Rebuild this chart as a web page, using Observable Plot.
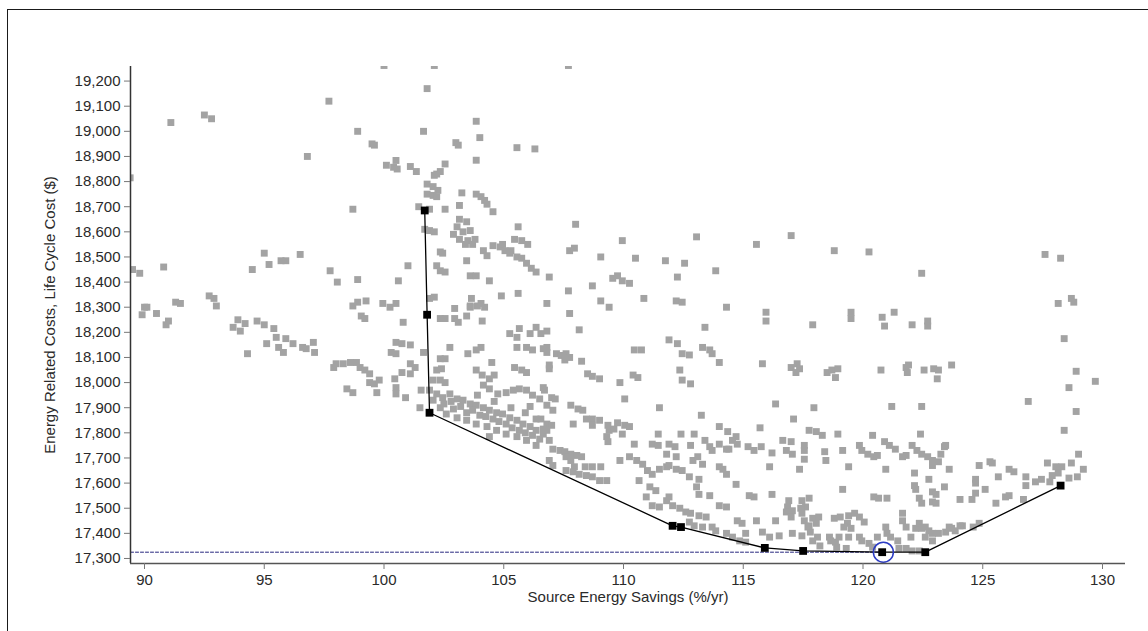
<!DOCTYPE html>
<html><head><meta charset="utf-8">
<script src="https://cdn.jsdelivr.net/npm/d3@7"></script>
<script src="https://cdn.jsdelivr.net/npm/@observablehq/plot@0.6"></script>
<style>
html,body{margin:0;padding:0;background:#fff;width:1148px;height:631px;overflow:hidden;}
#frame{position:absolute;left:7px;top:9px;width:1150px;height:640px;border:1px solid #1a1a1a;box-sizing:border-box;}
#chart{position:absolute;left:0;top:0;}
</style></head><body>
<div id="frame"></div>
<div id="chart"></div>
<script>
// Axis ticks
const xTicks = [90, 95, 100, 105, 110, 115, 120, 125, 130];
const yTicks = [17300,17400,17500,17600,17700,17800,17900,18000,18100,18200,18300,18400,18500,18600,18700,18800,18900,19000,19100,19200];
const xTitle = "Source Energy Savings (%/yr)";
const yTitle = "Energy Related Costs, Life Cycle Cost ($)";

// Simulated designs: [source energy savings %/yr, life cycle cost $]
const designsLeft = [
[91.1,19035],[92.5,19065],[92.8,19050],[96.8,18900],[97.7,19120],[98.9,19000],[99.5,18950],[99.6,18945],[100.1,18865],[100.4,18857],[100.5,18884],[100.0,19262],[98.7,18690],[89.4,18815],
[89.5,18450],[89.8,18435],[90.8,18460],[90.0,18300],[89.9,18270],[90.1,18300],[90.5,18275],[90.9,18230],[91.0,18245],[91.3,18320],[91.5,18315],[92.7,18345],[92.9,18335],[93.0,18305],[93.7,18220],[93.9,18250],[94.0,18205],[94.2,18235],[94.3,18115],[94.5,18450],[94.7,18245],[95.0,18230],[95.4,18215],[95.0,18515],[95.2,18470],[95.7,18485],[95.9,18485],[96.5,18510],[95.1,18155],[95.5,18180],[95.6,18140],[95.9,18175],[95.8,18120],[96.2,18155],[96.6,18140],[96.75,18135],[97.05,18160],[97.1,18120],[97.75,18445],[98.05,18400],[98.9,18410],[98.7,18305],[98.9,18320],[99.25,18325],[99.05,18265],[99.2,18255],[99.95,18315],[100.25,18300],[100.5,18315],[100.6,18405],[97.9,18060],[98.0,18075],[98.3,18075],[98.6,18080],[98.85,18080],[99.0,18060],[99.2,18050],[99.4,18035],[99.4,18000],[99.6,17995],[99.8,18010],[99.7,17960],[98.45,17975],[98.7,17960],[100.3,18120],[100.5,18115],[100.5,18160],[100.45,18015],[100.5,17980],
[100.8,18240],[100.75,18155],[101.1,18150],[101.1,18075],[101.3,18060],[100.75,18040],[101.1,18035],[100.5,17955],[100.9,17940],[100.55,18850],[101.1,18860],[101.35,18840]
];
const designsUpperMid = [
[101.65,18120],[101.55,17970],[101.5,17900],[101.9,17970],[102.05,18010],[102.35,18010],[102.55,18000],[102.2,18050],[102.4,18055],[102.35,18095],[102.55,18095],[102.75,18140],[102.35,18255],[102.55,18255],[102.95,18255],[103.1,18240],[102.95,18295],[103.45,18265],[103.6,18300],[103.9,18305],[104.2,18300],[104.1,18245],[103.5,18115],[103.85,18130],[104.05,18140],[104.5,18080],[103.85,18050],[104.1,18030],[104.4,18015],[104.6,18030],[102.05,17930],[105.25,18195],[105.55,18180],[105.65,18215],[106.1,18195],[106.35,18220],[106.55,18195],[106.8,18205],[105.55,18140],[105.95,18140],[106.2,18130],[106.65,18135],[105.45,18060],[105.75,18050],[105.95,18040],
[103.0,18955],[103.1,18945],[105.55,18935],[106.3,18930],[102.55,18870],[103.85,18885],[102.2,18830],[102.35,18840],[102.1,18825],[101.8,18790],[102.05,18780],[102.25,18765],[101.8,18750],[102.05,18745],[102.2,18740],[101.45,18700],[101.9,18690],[102.55,18690],[103.15,18705],[103.25,18755],[103.85,18750],[104.05,18740],[104.2,18725],[104.3,18710],[104.55,18680],[101.7,18610],[101.9,18605],[102.1,18600],[103.15,18650],[103.45,18640],[103.05,18620],[103.3,18600],[103.6,18605],[102.9,18590],[103.15,18570],[103.5,18565],[103.8,18570],[103.4,18550],[103.7,18550],[105.6,18620],[104.55,18545],[104.85,18540],[105.05,18525],[105.3,18525],[105.45,18570],[105.75,18565],[106.0,18550],[104.95,18550],[105.25,18515],[105.55,18500],[105.75,18495],[105.95,18475],[106.15,18455],[106.35,18440],[104.15,18525],[104.3,18505],[102.35,18520],[102.45,18515],[103.45,18485],[102.2,18465],[102.35,18445],[102.55,18440],[101.0,18465],[103.6,18425],[103.85,18425],[104.4,18405],[104.9,18345],[105.6,18355],[101.9,18335],[102.1,18340],[103.65,18335],[104.05,18315],[103.6,18305],[106.8,18315],
[107.7,19262],[102.1,19262],[101.8,19170],[103.85,19040],[101.65,19000],[104.0,18975]
];
const designsBand = [
[102.2,17955],[102.45,17940],[102.75,17955],[103.05,17935],[103.3,17930],[103.6,17915],[103.85,17910],[104.15,17900],[104.4,17890],[104.7,17880],[104.95,17875],[105.25,17860],[105.55,17850],[105.8,17835],[106.1,17825],[106.35,17810],[106.65,17795],[106.9,17770],
[102.6,17875],[103.05,17860],[103.45,17850],[103.85,17835],[104.3,17825],[104.7,17810],[105.1,17795],[105.55,17785],[105.95,17770],[106.35,17750],
[102.35,17900],[102.9,17895],[103.45,17880],[104.0,17870],[104.55,17855],[105.1,17835],[105.65,17810],[106.2,17790],
[104.15,17990],[104.4,17975],[104.75,17955],[105.1,17960],[105.4,17970],[105.65,17975],[105.95,17970],[106.2,17950],[106.5,17935],[106.8,17910],[107.05,17890],[106.35,17855],[104.4,17785],
[102.5,17915],[103.2,17905],[103.7,17890],[104.25,17865],[104.8,17845],[105.35,17820],[105.9,17800],[106.5,17775],[102.8,17925],[103.9,17950],[104.6,17925],[105.3,17900],[105.9,17880],[106.1,17905]
];
const designsCenter = [
[108.0,18630],[107.75,18525],[107.95,18535],[109.05,18500],[109.95,18565],[110.5,18495],[111.75,18485],[112.55,18475],[113.05,18580],[115.55,18550],[112.25,18420],[113.85,18445],[106.9,18420],[107.7,18365],[108.7,18385],[109.05,18325],[109.4,18300],[109.55,18415],[109.75,18425],[109.95,18405],[110.25,18395],[110.85,18335],[112.2,18325],[112.45,18320],[114.3,18300],[115.95,18280],[115.95,18245],[113.4,18220],[110.45,18130],[110.75,18130],[111.9,18170],[112.25,18155],[112.45,18115],[112.75,18110],[113.3,18140],[113.6,18130],[113.7,18115],[114.0,18080],[115.8,18075],[107.75,18275],[108.15,18210],[106.9,18070],[108.25,18085],[108.5,18035],[108.7,18025],[109.0,18015],[109.85,18000],[110.4,18030],[110.6,18020],[112.35,18050],[112.45,18010],[112.8,17995],
[106.8,18140],[106.8,18120],[107.2,18115],[107.4,18108],[107.6,18115],[107.75,18100],[107.55,18090],[106.9,18055],
[106.65,17980],[106.7,17970],[107.0,17940],[107.15,17935],[110.05,17935],[111.5,17900],[113.25,17870],[107.8,17910],[108.1,17895],[108.3,17890],[108.45,17855],[108.7,17855],[109.0,17850],[108.7,17830],[109.35,17830],[109.4,17810],[109.6,17815],[109.3,17785],[109.35,17765],[109.75,17840],[110.05,17830],[110.25,17825],[109.95,17795],[107.9,17835],[106.55,17855],[106.8,17835],[107.0,17830],[106.65,17815],[106.8,17810],[107.05,17735],[107.35,17730],[107.55,17725],[107.8,17715],[108.05,17710],[108.25,17705],[107.6,17705],[107.8,17690],[106.9,17690],[107.05,17670],[110.45,17755],[111.2,17755],[111.45,17750],[111.9,17755],[112.15,17745],[111.45,17795],[112.4,17795],[112.95,17795],[112.8,17750],[111.8,17715],[112.2,17705],[114.0,17825],[114.35,17805],[114.7,17785],[114.3,17735],[114.4,17735],[115.2,17745],[115.45,17730],[115.75,17745],[115.7,17820],[116.2,17720],[116.35,17915],[112.9,17690],[113.1,17705],[113.3,17675],[114.0,17665],[108.7,17665],[109.05,17665],[108.4,17665],[107.95,17665],
[107.6,17650],[107.9,17645],[108.15,17635],[108.45,17630],[108.7,17625],[109.0,17610],[109.3,17610],
[109.85,17690],[110.25,17705],[110.55,17690],[110.8,17675],[111.0,17650],[111.2,17635],[111.5,17655],[111.8,17665],[111.9,17670],[112.2,17655],[112.45,17650],
[110.65,17610],[111.1,17585],[111.35,17570],[110.95,17545],[111.2,17510],[111.5,17505],[111.8,17530],[111.9,17545],[112.05,17510],[112.35,17500],[112.6,17485],[112.8,17480],[113.15,17470],[113.45,17465],
[113.15,17555],[113.6,17550],[112.75,17625],[113.15,17615],[113.05,17585],
[113.4,17770],[113.6,17745],[113.7,17730],[114.0,17755],[114.55,17770],[114.75,17755],
[114.15,17655],[114.3,17635],[114.7,17595],[114.0,17510],[114.3,17505],[114.75,17450],[114.95,17440],[115.1,17400],[115.55,17450],[115.8,17405],[116.1,17385],[116.35,17450],[116.2,17555],[116.1,17665],
[115.25,17550],[115.45,17545],
[113.7,17425],[113.85,17410],[114.3,17400],[114.55,17385],[114.85,17370],[115.1,17365],
[112.75,17445],[112.95,17430],[113.3,17425]
];
const designsRightMid = [
[117.95,17900],[117.1,17855],[117.75,17810],[118.05,17805],[118.3,17790],[118.95,17795],[116.65,17770],[117.0,17765],[116.8,17730],[117.05,17715],[117.55,17750],[117.55,17730],[117.35,17655],[117.55,17695],[118.4,17725],[118.45,17690],[119.15,17730],[119.4,17665],[120.4,17790],[121.2,17905],[122.45,17905],[122.4,17795],[119.85,17750],[119.95,17730],[120.2,17715],[120.45,17705],[120.6,17710],[120.9,17765],[121.1,17750],[121.35,17735],[121.65,17705],[121.8,17710],[120.95,17655],[122.05,17750],[122.25,17730],[122.45,17715],[122.7,17705],[122.9,17690],[123.15,17685],[123.25,17715],[123.4,17745],[123.45,17750],[122.9,17670],[123.6,17655],[122.15,17640],[122.75,17615],[122.15,17590],[122.2,17575],[122.9,17565],[123.05,17555],[123.4,17585],[122.35,17540],[122.45,17520],[122.9,17525],[123.05,17520],[120.45,17545],[120.65,17540],[121.0,17540],[119.15,17575],
[116.9,17530],[116.85,17505],[116.8,17485],[117.05,17490],[117.0,17465],[117.45,17530],[117.75,17540],[117.6,17505],[117.4,17500],[117.45,17480],
[116.5,17390],[117.05,17400],[117.45,17390],[117.7,17425],[117.8,17405],[118.1,17385],[117.9,17370],[118.6,17385],[118.65,17370],[118.85,17365],[119.0,17385],
[117.55,17450],[117.9,17460],[118.15,17465],[117.75,17430],[118.05,17440],
[118.8,17460],[119.05,17465],[119.4,17470],[119.65,17480],[119.85,17465],[120.05,17445],[119.35,17440],[119.5,17420],[119.2,17425],
[119.4,17385],[119.85,17385],[119.95,17370],[120.25,17360],[120.4,17345],[120.6,17385],[120.95,17425],[121.0,17400],[121.15,17385],[121.45,17370],
[121.65,17480],[121.65,17450],[121.8,17425],[122.0,17385],[122.2,17420],[122.35,17440],[122.45,17420],[122.6,17425],[122.75,17410],[122.9,17400],[122.6,17385],[122.9,17370],[123.15,17400],[123.45,17405],[123.85,17410],[124.15,17430],
[121.5,17340],[121.8,17340],[122.05,17330],[122.35,17330],[118.2,17350],[118.9,17345],[119.3,17340],
[123.6,17425],[123.7,17420],[124.6,17425],[124.85,17440],
[117.9,18230],[119.5,18280],[119.5,18255],[120.8,18260],[120.9,18225],[121.3,18280],[122.05,18230],[122.7,18245],[122.7,18225],[117.25,18075],[117.0,18060],[117.35,18055],[117.2,18040],[118.5,18040],[118.7,18050],[118.95,18055],[118.85,18020],[120.75,18050],[121.8,18060],[121.9,18070],[121.85,18040],[122.55,18050],[122.95,18055],[123.15,18050],[123.1,18015],[123.7,18070],
[117.0,18585],[118.8,18525],[120.25,18520],[122.45,18435]
];
const designsRight = [
[127.6,18510],[128.25,18495],[128.15,18315],[128.7,18335],[128.8,18320],[128.4,18175],[128.9,18045],[128.6,17980],[129.7,18005],[126.9,17925],[128.9,17885],[128.4,17810],[129.0,17715],[128.7,17680],[129.2,17655],[127.7,17680],[128.05,17665],[128.3,17665],[128.15,17640],[128.95,17625],[128.6,17620],[127.2,17605],[127.45,17615],[127.8,17605],[127.9,17630],[126.8,17625],[126.8,17590],[126.7,17535],[126.1,17655],[126.3,17645],[125.65,17625],[125.55,17520],[125.95,17545],[126.1,17550],[125.3,17685],[125.4,17680],[124.85,17670],[124.7,17615],[124.7,17600],[125.1,17575],[124.7,17560],[124.55,17535],[124.05,17535],[124.05,17430]
];

// Pareto front (optimal path)
const frontSavings = [101.7, 101.8, 101.9, 112.05, 112.4, 115.9, 117.5, 120.8, 122.6, 128.25];
const frontCost    = [18685, 18270, 17880, 17430, 17425, 17342, 17330, 17325, 17325, 17590];
// Selected design
const selectedSavings = 120.85;
const selectedCost = 17325;

const xDomain = [89.415, 130.96];
const yDomain = [17280, 19258];

const designs = [...designsLeft, ...designsUpperMid, ...designsBand, ...designsCenter, ...designsRightMid, ...designsRight]
  .map(([s, c]) => ({s, c}));
const front = frontSavings.map((s, i) => ({s, c: frontCost[i]}));

const chart = Plot.plot({
  width: 1148,
  height: 631,
  marginLeft: 130,
  marginRight: 23,
  marginTop: 66,
  marginBottom: 68,
  style: {fontFamily: "'Liberation Sans', Arial, sans-serif", fontSize: "15px", color: "#2a2a2a", background: "transparent"},
  x: {domain: xDomain},
  y: {domain: yDomain},
  marks: [
    Plot.dot(designs, {x: "s", y: "c", symbol: "square", r: 3.9, fill: "#a3a3a3", stroke: "none", clip: true}),
    Plot.lineY([{s: xDomain[0], c: selectedCost}, {s: selectedSavings, c: selectedCost}], {x: "s", y: "c", stroke: "#26267e", strokeWidth: 1, strokeDasharray: "3,2"}),
    Plot.line(front, {x: "s", y: "c", stroke: "#000", strokeWidth: 1.3}),
    Plot.dot(front, {x: "s", y: "c", symbol: "square", r: 4.4, fill: "#000"}),
    Plot.dot([{s: selectedSavings, c: selectedCost}], {x: "s", y: "c", r: 10, fill: "none", stroke: "#2b3bc4", strokeWidth: 1.5}),
    Plot.ruleX([xDomain[0]], {stroke: "#333", strokeWidth: 1.5}),
    Plot.ruleY([yDomain[0]], {stroke: "#555", strokeWidth: 1.5}),
    Plot.axisX({ticks: xTicks, tickSize: 6, tickPadding: 5, label: null, stroke: "#777"}),
    Plot.axisY({ticks: yTicks, tickSize: 6, tickPadding: 4, tickFormat: d3.format(","), label: null, stroke: "#777"}),
    Plot.text([xTitle], {frameAnchor: "bottom", dy: 38, fontSize: 15, fill: "#2a2a2a"}),
    Plot.text([yTitle], {frameAnchor: "left", textAnchor: "middle", dx: -80, rotate: -90, fontSize: 15, fill: "#2a2a2a"})
  ]
});
document.getElementById("chart").appendChild(chart);
</script>
</body></html>
